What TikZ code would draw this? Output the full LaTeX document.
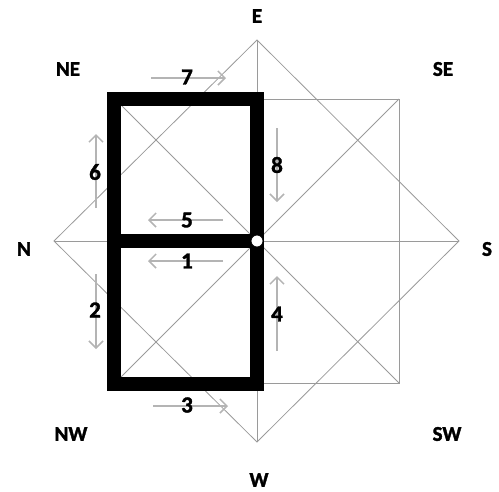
\documentclass[tikz,border=0pt]{standalone}
\usepackage{fontspec}
\setmainfont{Carlito}[BoldFeatures={FakeBold=1.6}]
\usetikzlibrary{arrows.meta}
\definecolor{thin}{HTML}{9A9A9A}
\definecolor{arr}{HTML}{B4B4B4}
\begin{document}
\begin{tikzpicture}[x=1pt,y=-1pt,
  guide/.style={draw=thin,line width=0.8pt},
  frame/.style={draw=black,line width=14pt,line join=miter},
  flow/.style={draw=arr,line width=1.5pt,-{Straight Barb[length=7pt,width=14pt,line width=1.5pt]}},
  lbl/.style={font=\fontsize{21}{21}\selectfont\bfseries,text=black,inner sep=0pt},
  num/.style={font=\fontsize{23}{23}\selectfont\bfseries,text=black,inner sep=0pt}]
\useasboundingbox (0,0) rectangle (499,491);
% diamond apexes
\coordinate (dE) at (257,40);
\coordinate (dS) at (459,241);
\coordinate (dW) at (257,442);
\coordinate (dN) at (54,241);
\coordinate (C) at (257,241);
% square corners
\coordinate (q1) at (115,99);
\coordinate (q2) at (399,99);
\coordinate (q3) at (399,383);
\coordinate (q4) at (115,383);
% thin guides
\draw[guide] (dE) -- (dS) -- (dW) -- (dN) -- cycle;
\draw[guide] (dE) -- (dW);
\draw[guide] (dN) -- (dS);
\draw[guide] (q1) -- (q2) -- (q3) -- (q4) -- cycle;
\draw[guide] (q1) -- (q3);
\draw[guide] (q2) -- (q4);
% thick frame
\coordinate (f1) at (114,99);
\coordinate (f2) at (257,99);
\coordinate (f3) at (257,384);
\coordinate (f4) at (114,384);
\coordinate (fm1) at (114,241);
\coordinate (fm2) at (257,241);
\draw[frame] (f1) -- (f2) -- (f3) -- (f4) -- cycle;
\draw[frame,line cap=butt] (fm1) -- (fm2);
\node[circle,draw=black,fill=white,line width=0.8pt,minimum size=12pt,inner sep=0pt] (hub) at (C) {};
% flow arrows
\coordinate (a1s) at (223,261); \coordinate (a1e) at (148,261);
\coordinate (a2s) at (96,274);  \coordinate (a2e) at (96,349);
\coordinate (a3s) at (153,406); \coordinate (a3e) at (228,406);
\coordinate (a4s) at (277,351); \coordinate (a4e) at (277,276);
\coordinate (a5s) at (223,220); \coordinate (a5e) at (148,220);
\coordinate (a6s) at (96,208);  \coordinate (a6e) at (96,134);
\coordinate (a7s) at (151,78);  \coordinate (a7e) at (226,78);
\coordinate (a8s) at (277,128); \coordinate (a8e) at (277,202);
\foreach \i in {1,...,8} {\draw[flow] (a\i s) -- (a\i e);}
\node[num] (n1) at (187,261) {1};
\node[num] (n2) at (95,310) {2};
\node[num] (n3) at (187,405) {3};
\node[num] (n4) at (277,314) {4};
\node[num] (n5) at (187,220) {5};
\node[num] (n6) at (95,172) {6};
\node[num] (n7) at (187,77) {7};
\node[num] (n8) at (277,165) {8};
% compass labels
\node[lbl] (lE) at (257,16) {E};
\node[lbl] (lNE) at (68,69) {NE};
\node[lbl] (lSE) at (443,69) {SE};
\node[lbl] (lN) at (24,249) {N};
\node[lbl] (lS) at (487,249) {S};
\node[lbl] (lNW) at (71,434) {NW};
\node[lbl] (lSW) at (447,434) {SW};
\node[lbl] (lW) at (259,480) {W};
\end{tikzpicture}
\end{document}
